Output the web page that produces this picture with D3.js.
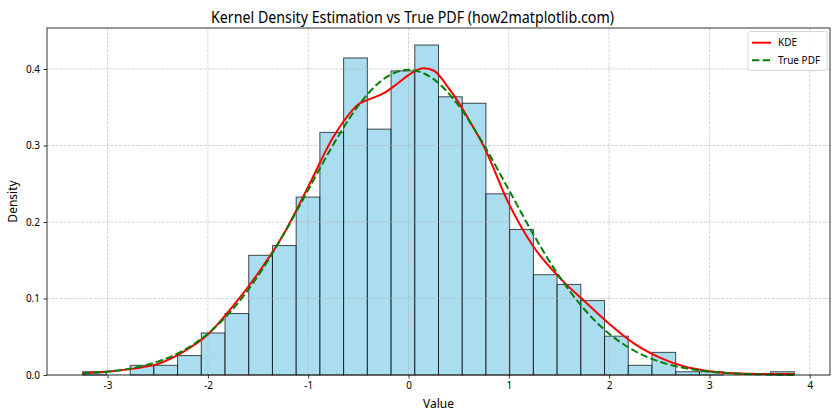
<!DOCTYPE html>
<html><head><meta charset="utf-8">
<script src="https://cdn.jsdelivr.net/npm/d3@7"></script>
<style>body{margin:0;background:#fff} text{font-family:"Noto Sans","DejaVu Sans",sans-serif;fill:#000}</style>
</head><body><svg id="c" width="840" height="420"></svg>
<script>
// ---- data ----
const binCounts = [1,0,3,3,6,13,19,37,40,55,75,98,76,94,102,86,84,56,45,31,28,23,12,3,7,1,1,0,0,1];
const dataMin = -3.248, dataMax = 3.846, sampleSize = 1000;
const kdeX = [-3.25,-3.0,-2.75,-2.5,-2.25,-2.0,-1.75,-1.5,-1.25,-1.0,-0.75,-0.65,-0.5,-0.4,-0.25,-0.1,0.0,0.1,0.15,0.25,0.4,0.5,0.6,0.75,1.0,1.25,1.5,1.75,2.0,2.25,2.5,2.75,3.0,3.25,3.5,3.75,3.846];
const kdeY = [0.002,0.0045,0.008,0.0145,0.030,0.053,0.090,0.133,0.183,0.246,0.311,0.331,0.354,0.360,0.368,0.382,0.392,0.3995,0.401,0.398,0.375,0.356,0.334,0.299,0.224,0.167,0.128,0.097,0.067,0.041,0.023,0.011,0.005,0.0022,0.0013,0.0013,0.0012];
const pdfX = [-3.248,-3.0,-2.75,-2.5,-2.25,-2.0,-1.75,-1.5,-1.25,-1.0,-0.75,-0.5,-0.25,0,0.25,0.5,0.75,1.0,1.25,1.5,1.75,2.0,2.25,2.5,2.75,3.0,3.25,3.5,3.75,3.846];
const pdfY = [0.0020,0.0044,0.0091,0.0175,0.0317,0.0540,0.0863,0.1295,0.1826,0.2420,0.3011,0.3521,0.3867,0.3989,0.3867,0.3521,0.3011,0.2420,0.1826,0.1295,0.0863,0.0540,0.0317,0.0175,0.0091,0.0044,0.0020,0.0009,0.0004,0.0002];
const xTicks = [-3,-2,-1,0,1,2,3,4];
const yTicks = [0,0.1,0.2,0.3,0.4];
const titleText = "Kernel Density Estimation vs True PDF (how2matplotlib.com)";
const xLabel = "Value", yLabel = "Density";
const legendItems = [{name:"KDE", color:"red", dash:null},{name:"True PDF", color:"green", dash:"7.4,3.2"}];

// ---- layout ----
const L=47, R=830, T=28, B=375;
const svg = d3.select("#c");
svg.append("rect").attr("width",840).attr("height",420).attr("fill","#fff");
const x = d3.scaleLinear().domain([-3.6037, 4.2017]).range([L,R]);
const y = d3.scaleLinear().domain([0, 0.4536]).range([B,T]);

const binW = (dataMax-dataMin)/binCounts.length;
const bins = binCounts.map((c,i)=>({x0:dataMin+i*binW, x1:dataMin+(i+1)*binW, d:c/(sampleSize*binW)}));

// bars
svg.append("g").selectAll("rect").data(bins).join("rect")
  .attr("x",d=>x(d.x0)).attr("y",d=>y(d.d))
  .attr("width",d=>x(d.x1)-x(d.x0)).attr("height",d=>y(0)-y(d.d))
  .attr("fill","rgba(135,206,235,0.7)").attr("stroke","rgba(0,0,0,0.7)").attr("stroke-width",1);

// grid
const grid = svg.append("g").attr("stroke","#b0b0b0").attr("stroke-opacity",0.7).attr("stroke-width",0.8).attr("stroke-dasharray","2.96,1.28");
grid.selectAll(".gx").data(xTicks).join("line").attr("x1",d=>x(d)).attr("x2",d=>x(d)).attr("y1",T).attr("y2",B);
grid.selectAll(".gy").data(yTicks).join("line").attr("y1",d=>y(d)).attr("y2",d=>y(d)).attr("x1",L).attr("x2",R);

// curves
const line = d3.line().x(d=>x(d[0])).y(d=>y(d[1])).curve(d3.curveMonotoneX);
svg.append("path").attr("d",line(kdeX.map((v,i)=>[v,kdeY[i]]))).attr("fill","none").attr("stroke","red").attr("stroke-width",2);
svg.append("path").attr("d",line(pdfX.map((v,i)=>[v,pdfY[i]]))).attr("fill","none").attr("stroke","green").attr("stroke-width",2).attr("stroke-dasharray","7.4,3.2");

// axes
const xa = svg.append("g").attr("transform",`translate(0,${B})`).call(d3.axisBottom(x).tickValues(xTicks).tickSize(3.5).tickPadding(3.5).tickFormat(d=>String(d)));
const ya = svg.append("g").attr("transform",`translate(${L},0)`).call(d3.axisLeft(y).tickValues(yTicks).tickSize(3.5).tickPadding(3.5).tickFormat(d3.format(".1f")));
[xa,ya].forEach(a=>{a.select(".domain").remove(); a.selectAll("line").attr("stroke","#000").attr("stroke-width",0.8); a.selectAll("text").attr("font-size",10).attr("font-family","'Noto Sans',sans-serif");});
svg.append("rect").attr("x",L).attr("y",T).attr("width",R-L).attr("height",B-T).attr("fill","none").attr("stroke","#000").attr("stroke-width",0.8);

// labels
svg.append("text").attr("x",412.5).attr("y",23).attr("text-anchor","middle").attr("font-size",16).attr("textLength",403).attr("lengthAdjust","spacingAndGlyphs").text(titleText);
svg.append("text").attr("x",(L+R)/2).attr("y",408).attr("text-anchor","middle").attr("font-size",12).text(xLabel);
svg.append("text").attr("transform",`translate(17,${(T+B)/2}) rotate(-90)`).attr("text-anchor","middle").attr("font-size",12).text(yLabel);

// legend
const lg = svg.append("g");
lg.append("rect").attr("x",748).attr("y",31.5).attr("width",79).attr("height",39).attr("rx",2.5).attr("fill","rgba(255,255,255,0.8)").attr("stroke","#cccccc").attr("stroke-width",0.8);
legendItems.forEach((it,i)=>{
  const yy = 42.7 + i*17.5;
  const ln = lg.append("line").attr("x1",752).attr("x2",771).attr("y1",yy).attr("y2",yy).attr("stroke",it.color).attr("stroke-width",2);
  if(it.dash) ln.attr("stroke-dasharray",it.dash);
  lg.append("text").attr("x",778).attr("y",yy+3.6).attr("font-size",10).text(it.name);
});
</script></body></html>
